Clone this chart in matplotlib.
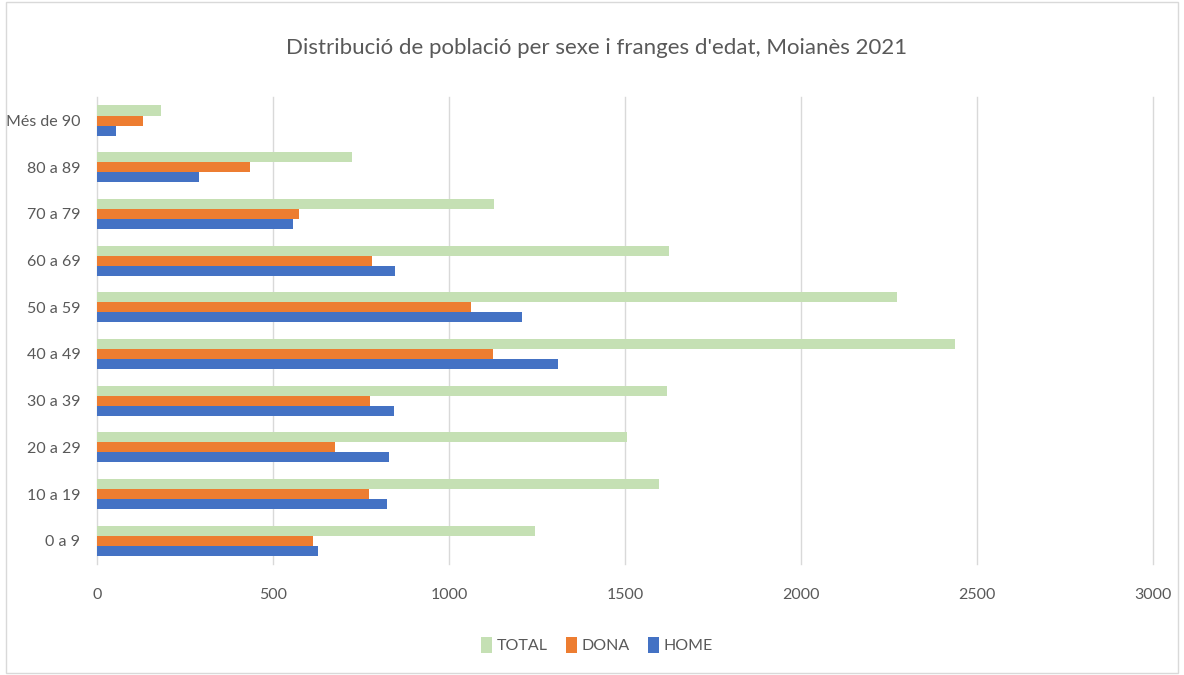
import matplotlib.pyplot as plt
import numpy as np
from matplotlib.patches import Rectangle

# age bands, bottom to top
franges = ["0 a 9", "10 a 19", "20 a 29", "30 a 39", "40 a 49",
           "50 a 59", "60 a 69", "70 a 79", "80 a 89", "Més de 90"]
total = [1244, 1597, 1506, 1619, 2437, 2273, 1625, 1128, 724, 182]
dona = [614, 773, 676, 776, 1125, 1062, 781, 574, 435, 131]
home = [628, 824, 830, 844, 1310, 1207, 847, 557, 290, 54]

plt.rcParams['font.family'] = ['Lato', 'DejaVu Sans']
gris = '#595959'

fig = plt.figure(figsize=(11.84, 6.75), dpi=100)
ax = fig.add_axes([0.0819, 0.1644, 0.8919, 0.6916])

y = np.arange(len(franges))
h = 0.215
ax.barh(y + h, total, height=h, color='#C5E0B4', label='TOTAL', zorder=3)
ax.barh(y, dona, height=h, color='#ED7D31', label='DONA', zorder=3)
ax.barh(y - h, home, height=h, color='#4472C4', label='HOME', zorder=3)

ax.set_xlim(0, 3000)
ax.set_ylim(-0.5, 9.5)
ax.set_xticks(np.arange(0, 3001, 500))
ax.set_yticks(y)
ax.set_yticklabels(franges)
ax.grid(axis='x', color='#D9D9D9', linewidth=1, zorder=0)
for g in ax.get_xgridlines():
    g.set_clip_on(False)
for s in ax.spines.values():
    s.set_visible(False)
ax.tick_params(length=0, colors=gris, labelsize=11.5)
ax.tick_params(axis='x', pad=17)
ax.tick_params(axis='y', pad=12)

fig.text(597 / 1184, 1 - 48 / 675,
         "Distribució de població per sexe i franges d'edat, Moianès 2021",
         fontsize=16, color=gris, ha='center', va='center')

leg = ax.legend(loc='center', ncol=3, frameon=False,
                fontsize=11.5, labelcolor=gris, handlelength=0.7, handleheight=1.15,
                handletextpad=0.3, columnspacing=1.1)
leg.set_bbox_to_anchor((597 / 1184, (675 - 645) / 675), transform=fig.transFigure)

fig.patches.append(Rectangle((0.005, 0.003), 0.99, 0.994, transform=fig.transFigure,
                             fill=False, edgecolor='#D9D9D9', linewidth=1))

fig.savefig('out.png', dpi=100)
